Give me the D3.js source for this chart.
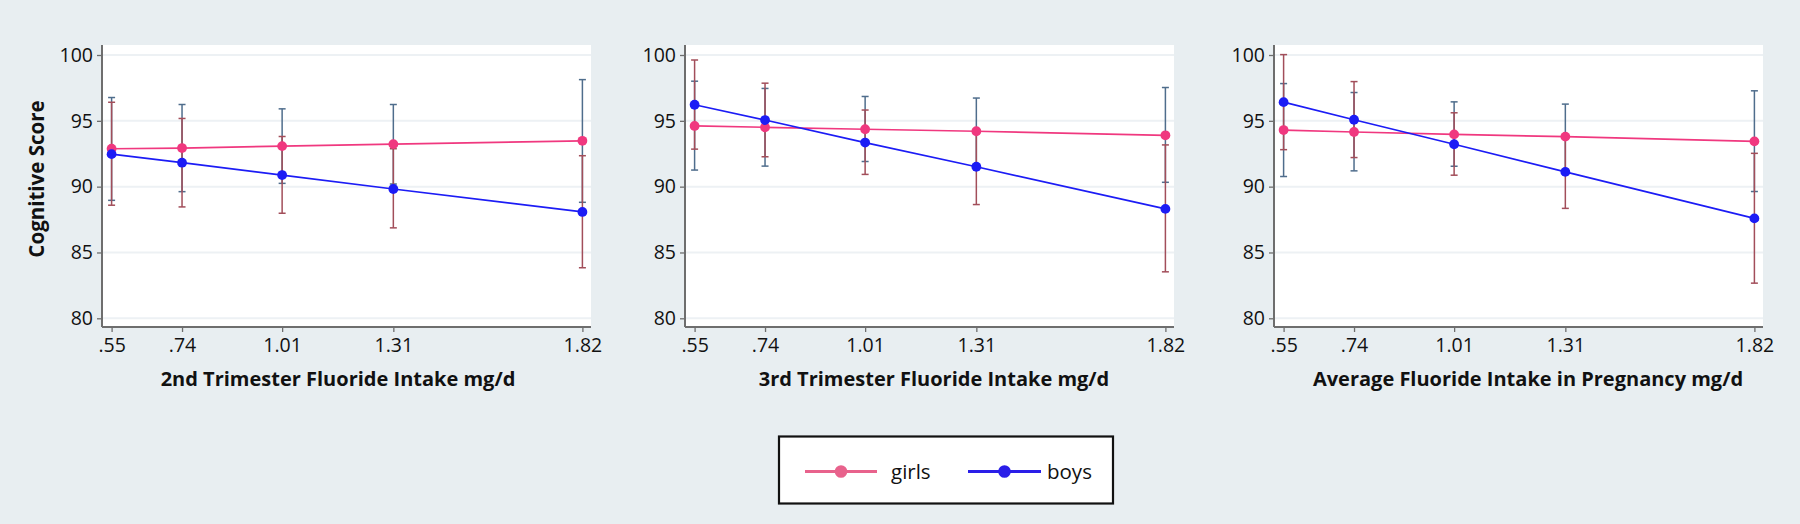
<!DOCTYPE html>
<html>
<head>
<meta charset="utf-8">
<style>
  body { margin: 0; background: #e8eef1; }
  svg { display: block; font-family: "Open Sans", sans-serif; }
</style>
<script src="https://cdnjs.cloudflare.com/ajax/libs/d3/7.8.5/d3.min.js"></script>
</head>
<body>
<div id="chart"></div>
<script>
// ---- data ----
const xTicks = [0.55, 0.74, 1.01, 1.31, 1.82];
const xTickLabels = [".55", ".74", "1.01", "1.31", "1.82"];
const yTicks = [80, 85, 90, 95, 100];
const panelTitles = [
  "2nd Trimester Fluoride Intake mg/d",
  "3rd Trimester Fluoride Intake mg/d",
  "Average Fluoride Intake in Pregnancy mg/d"
];
const seriesNames = ["girls", "boys"];

// predicted scores, one row per panel
const girlsMean = [
  [92.88, 92.93, 93.08, 93.23, 93.48],
  [94.61, 94.51, 94.36, 94.21, 93.90],
  [94.30, 94.15, 93.97, 93.80, 93.44]
];
const boysMean = [
  [92.47, 91.82, 90.88, 89.82, 88.08],
  [96.22, 95.06, 93.35, 91.51, 88.31],
  [96.42, 95.08, 93.22, 91.12, 87.59]
];
// 95% CI
const girlsLow = [
  [88.96, 89.62, 90.25, 90.20, 88.81],
  [91.26, 91.56, 91.91, 91.69, 90.33],
  [90.77, 91.20, 91.55, 91.33, 89.63]
];
const girlsHigh = [
  [96.77, 96.24, 95.91, 96.24, 98.13],
  [98.01, 97.46, 96.85, 96.73, 97.53],
  [97.83, 97.15, 96.44, 96.27, 97.28]
];
const boysLow = [
  [88.59, 88.46, 87.98, 86.87, 83.84],
  [92.85, 92.27, 90.93, 88.64, 83.53],
  [92.81, 92.21, 90.87, 88.35, 82.67]
];
const boysHigh = [
  [96.41, 95.18, 93.81, 92.88, 92.35],
  [99.62, 97.86, 95.82, 94.38, 93.17],
  [100.03, 97.98, 95.61, 93.89, 92.53]
];

// ---- layout ----
const W = 1800, H = 524;
const panelLeft = [102, 685, 1274];      // y axis position of each panel
const titleCenter = [338, 934, 1528];
const plotW = 489, plotTop = 45, axisY = 327;
const lineCol = { girls: "#f0387f", boys: "#1c1cf5" };
const capCol = { girls: "#4f6d8c", boys: "#a24e5a" };

const svg = d3.select("#chart").append("svg")
  .attr("width", W).attr("height", H);

svg.append("rect").attr("width", W).attr("height", H).attr("fill", "#e8eef1");

const y = d3.scaleLinear().domain([80, 100]).range([318.3, 55]);

for (let p = 0; p < 3; p++) {
  const x0 = panelLeft[p];
  const x = d3.scaleLinear().domain([0.55, 1.82]).range([x0 + 9.6, x0 + 9.6 + 470.8]);
  const g = svg.append("g");

  // plot region
  g.append("rect")
    .attr("x", x0).attr("y", plotTop)
    .attr("width", plotW).attr("height", axisY - plotTop)
    .attr("fill", "#ffffff");

  // grid
  g.selectAll(".grid").data(yTicks).enter().append("line")
    .attr("x1", x0 + 1).attr("x2", x0 + plotW)
    .attr("y1", d => y(d)).attr("y2", d => y(d))
    .attr("stroke", "#edf1f4").attr("stroke-width", 2);

  // axes
  const yAxis = d3.axisLeft(y).tickValues(yTicks).tickSize(5).tickPadding(4);
  const gy = g.append("g").attr("transform", `translate(${x0},0)`).call(yAxis);
  gy.select(".domain").attr("d", `M0,${plotTop}V${axisY}`);

  const xAxis = d3.axisBottom(x).tickValues(xTicks)
    .tickFormat((d, i) => xTickLabels[i]).tickSize(5).tickPadding(6);
  const gx = g.append("g").attr("transform", `translate(0,${axisY})`).call(xAxis);
  gx.select(".domain").attr("d", `M${x0},0H${x0 + plotW}`);

  [gy, gx].forEach(a => {
    a.select(".domain").attr("stroke", "#6e6e6e").attr("stroke-width", 2);
    a.selectAll(".tick line").attr("stroke", "#6e6e6e").attr("stroke-width", 1.3);
    a.selectAll(".tick text").attr("fill", "#111").style("font-size", "19.5px")
      .style("font-family", '"Open Sans", sans-serif');
  });

  // axis title
  g.append("text")
    .attr("x", titleCenter[p]).attr("y", 386)
    .attr("text-anchor", "middle")
    .style("font-size", "20px").style("font-weight", "bold")
    .attr("fill", "#111")
    .text(panelTitles[p]);

  // series
  const sets = {
    girls: { m: girlsMean[p], lo: girlsLow[p], hi: girlsHigh[p] },
    boys: { m: boysMean[p], lo: boysLow[p], hi: boysHigh[p] }
  };

  // error bars (caps)
  seriesNames.forEach(s => {
    const d = xTicks.map((v, i) => ({ x: v, lo: sets[s].lo[i], hi: sets[s].hi[i] }));
    const cg = g.append("g").attr("stroke", capCol[s]).attr("stroke-width", 1.5);
    cg.selectAll(".bar").data(d).enter().append("line")
      .attr("x1", d => x(d.x)).attr("x2", d => x(d.x))
      .attr("y1", d => y(d.lo)).attr("y2", d => y(d.hi));
    cg.selectAll(".capTop").data(d).enter().append("line")
      .attr("x1", d => x(d.x) - 3.5).attr("x2", d => x(d.x) + 3.5)
      .attr("y1", d => y(d.hi)).attr("y2", d => y(d.hi));
    cg.selectAll(".capBot").data(d).enter().append("line")
      .attr("x1", d => x(d.x) - 3.5).attr("x2", d => x(d.x) + 3.5)
      .attr("y1", d => y(d.lo)).attr("y2", d => y(d.lo));
  });

  // lines + markers
  ["girls", "boys"].forEach(s => {
    const d = xTicks.map((v, i) => ({ x: v, m: sets[s].m[i] }));
    g.append("path").datum(d)
      .attr("fill", "none").attr("stroke", lineCol[s]).attr("stroke-width", 1.7)
      .attr("d", d3.line().x(d => x(d.x)).y(d => y(d.m)));
    g.selectAll(".pt-" + s).data(d).enter().append("circle")
      .attr("cx", d => x(d.x)).attr("cy", d => y(d.m))
      .attr("r", 4.9).attr("fill", lineCol[s]);
  });
}

// y axis title (first panel only)
svg.append("text")
  .attr("transform", "translate(44,179) rotate(-90)")
  .attr("text-anchor", "middle")
  .style("font-size", "20.5px").style("font-weight", "bold")
  .attr("fill", "#111")
  .text("Cognitive Score");

// legend
const leg = svg.append("g");
leg.append("rect")
  .attr("x", 779).attr("y", 436.5).attr("width", 334).attr("height", 67)
  .attr("fill", "#ffffff").attr("stroke", "#111").attr("stroke-width", 2.2);

const legItems = [
  { name: seriesNames[0], x1: 805, x2: 877, col: "#e8628c", tx: 891 },
  { name: seriesNames[1], x1: 968, x2: 1041, col: "#2a1ee8", tx: 1047 }
];
legItems.forEach(it => {
  leg.append("line").attr("x1", it.x1).attr("x2", it.x2)
    .attr("y1", 471.5).attr("y2", 471.5)
    .attr("stroke", it.col).attr("stroke-width", 3);
  leg.append("circle").attr("cx", (it.x1 + it.x2) / 2).attr("cy", 471.5)
    .attr("r", 6.3).attr("fill", it.col);
  leg.append("text").attr("x", it.tx).attr("y", 478.5)
    .style("font-size", "20.5px").attr("fill", "#111")
    .text(it.name);
});
</script>
</body>
</html>
